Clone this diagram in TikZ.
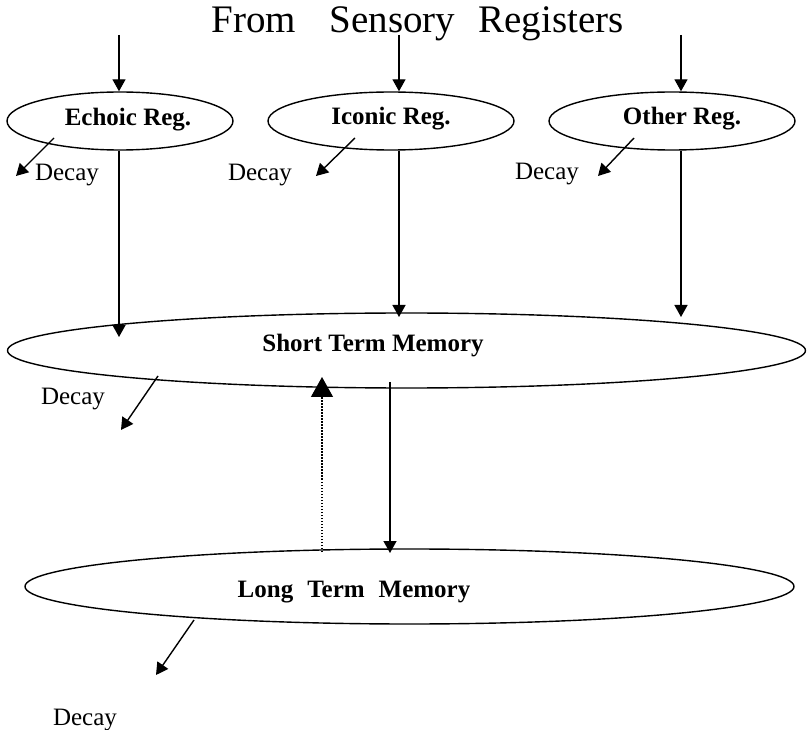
\documentclass[tikz,border=0pt]{standalone}
\usepackage{fontspec}
\setmainfont{Liberation Serif}
\usetikzlibrary{arrows.meta,shapes.geometric}
\begin{document}
\begin{tikzpicture}[x=1pt,y=-1pt,
  reg/.style={draw,ellipse,line width=1.4pt,inner sep=0pt},
  arr/.style={line width=1.4pt,-{Triangle[length=12pt,width=13pt]}},
  bigarr/.style={line width=1.3pt,dash pattern=on 1.5pt off 1.5pt,-{Triangle[length=20pt,width=22pt]}},
  lab/.style={font=\fontsize{25}{28}\selectfont\bfseries,inner sep=0pt,anchor=base},
  dec/.style={font=\fontsize{25}{28}\selectfont,inner sep=0pt,anchor=base}]
\useasboundingbox (0,0) rectangle (807,730);

\node[font=\fontsize{39}{42}\selectfont,inner sep=0pt,anchor=base] (title) at (417.5,33) {From\hspace{34pt}Sensory\hspace{23pt}Registers};

% ellipses
\node[reg,minimum width=226pt,minimum height=58pt] (eR) at (120,121) {};
\node[reg,minimum width=246pt,minimum height=58pt] (iR) at (391,121) {};
\node[reg,minimum width=246pt,minimum height=58pt] (oR) at (672,121) {};
\node[reg,minimum width=798pt,minimum height=75pt] (stm) at (406.5,350.5) {};
\node[reg,minimum width=769pt,minimum height=75pt] (ltm) at (409.5,586.5) {};

% texts
\node[lab] (eT) at (128,126) {Echoic Reg.};
\node[lab] (iT) at (391,125) {Iconic Reg.};
\node[lab] (oT) at (682,125) {Other Reg.};
\node[lab] (sT) at (373,352) {Short Term Memory};
\node[lab] (lT) at (354,597) {Long\hspace{14pt}Term\hspace{14pt}Memory};

\node[dec] (d1) at (67,181) {Decay};
\node[dec] (d2) at (260,181) {Decay};
\node[dec] (d3) at (547,180) {Decay};
\node[dec] (d4) at (73,405) {Decay};
\node[dec] (d5) at (85,725) {Decay};

% coordinates
\coordinate (t1) at (119,35);
\coordinate (t2) at (399,35);
\coordinate (t3) at (681,35);
\coordinate (s1) at (119,337);
\coordinate (s2) at (399,317);
\coordinate (s3) at (681,317);
\coordinate (a1) at (54,138);  \coordinate (b1) at (16,176);
\coordinate (a2) at (355,138); \coordinate (b2) at (316,176);
\coordinate (a3) at (634,138); \coordinate (b3) at (598,176);
\coordinate (a4) at (158,376); \coordinate (b4) at (121,430);
\coordinate (a5) at (194,620); \coordinate (b5) at (156,675);
\coordinate (m1) at (390,382); \coordinate (m2) at (390,553);
\coordinate (u1) at (322,552); \coordinate (u2) at (322,377);

% input arrows
\draw[arr] (t1) -- (t1 |- eR.north);
\draw[arr] (t2) -- (t2 |- iR.north);
\draw[arr] (t3) -- (t3 |- oR.north);

% to STM
\draw[arr] (t1 |- eR.south) -- (s1);
\draw[arr] (t2 |- iR.south) -- (s2);
\draw[arr] (t3 |- oR.south) -- (s3);

% decay arrows
\draw[arr] (a1) -- (b1);
\draw[arr] (a2) -- (b2);
\draw[arr] (a3) -- (b3);
\draw[arr] (a4) -- (b4);
\draw[arr] (a5) -- (b5);

% STM <-> LTM
\draw[arr] (m1) -- (m2);
\draw[bigarr] (u1) -- (u2);
\end{tikzpicture}
\end{document}
